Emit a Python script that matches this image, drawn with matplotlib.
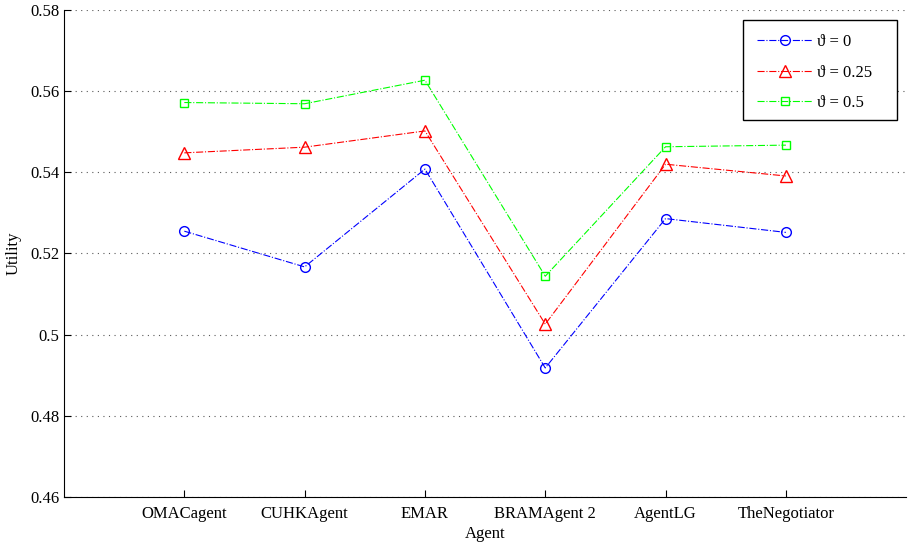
import matplotlib
matplotlib.use("Agg")
from matplotlib import pyplot as plt
from matplotlib.patches import Rectangle
import numpy as np

agents = ["OMACagent", "CUHKAgent", "EMAR", "BRAMAgent 2", "AgentLG", "TheNegotiator"]
theta_labels = ["ϑ = 0", "ϑ = 0.25", "ϑ = 0.5"]
util_0 = [0.5255, 0.5167, 0.5408, 0.4918, 0.5286, 0.5252]
util_025 = [0.5448, 0.5462, 0.5502, 0.5026, 0.5420, 0.5391]
util_05 = [0.5572, 0.5569, 0.5627, 0.5144, 0.5463, 0.5467]

plt.rcParams['font.family'] = ['Liberation Serif', 'DejaVu Serif']
plt.rcParams['font.size'] = 12

fig = plt.figure(figsize=(9.08, 5.43), dpi=100)
ax = fig.add_axes([0.0705, 0.0847, 0.9275, 0.8969])

x = np.arange(1, len(agents) + 1)
ax.plot(x, util_0, '-.', color='blue', marker='o', mfc='none', ms=7, lw=0.8, label=theta_labels[0])
ax.plot(x, util_025, '-.', color='red', marker='^', mfc='none', ms=8, lw=0.8, label=theta_labels[1])
ax.plot(x, util_05, '-.', color=(0, 1, 0), marker='s', mfc='none', ms=6, lw=0.8, label=theta_labels[2])

ax.set_xlim(0, 7)
ax.set_ylim(0.46, 0.58)
ax.set_xticks(x)
ax.set_xticklabels(agents)
ax.set_yticks(np.arange(0.46, 0.581, 0.02))
ax.set_yticklabels(["0.46", "0.48", "0.5", "0.52", "0.54", "0.56", "0.58"])
ax.yaxis.grid(True, color='0.35', linestyle=(0, (1, 4)), linewidth=0.8)
ax.set_axisbelow(True)

ax.spines['top'].set_visible(False)
ax.spines['right'].set_visible(False)
ax.tick_params(direction='in', length=5, width=0.8)
ax.tick_params(axis='x', pad=6.5)

ax.set_xlabel("Agent", labelpad=3)
ax.set_ylabel("Utility", labelpad=6)

# legend without frame, box drawn separately (matlab style padding)
leg = ax.legend(loc='upper left', bbox_to_anchor=(0.823, 0.951), borderaxespad=0, borderpad=0,
                frameon=False, handlelength=3.3, handletextpad=0.3, labelspacing=0.88)
ax.add_patch(Rectangle((0.8064, 0.7741), 0.1829, 0.2054, transform=ax.transAxes,
                       facecolor='white', edgecolor='black', lw=1.0, zorder=4))
leg.set_zorder(5)

plt.savefig("out.png", dpi=100)
